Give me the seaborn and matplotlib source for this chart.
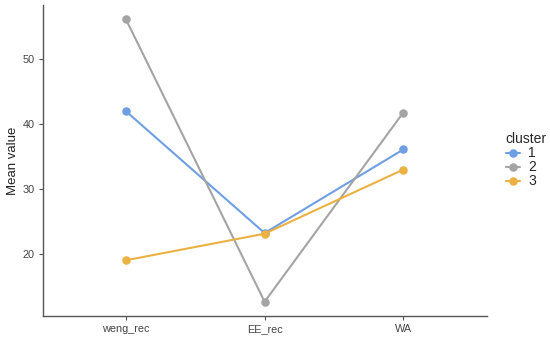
import matplotlib
matplotlib.use("Agg")
import matplotlib.pyplot as plt
import pandas as pd
import seaborn as sns

variables = ["weng_rec", "EE_rec", "WA"]
clusters = ["1", "2", "3"]
cluster1 = [42.0, 23.2, 36.1]
cluster2 = [56.2, 12.6, 41.8]
cluster3 = [19.0, 23.1, 33.0]

palette = {"1": "#6f9fe3", "2": "#a4a4a4", "3": "#ebb142"}

rows = []
for cl, vals in zip(clusters, [cluster1, cluster2, cluster3]):
    for v, val in zip(variables, vals):
        rows.append({"variable": v, "cluster": cl, "value": val})
df = pd.DataFrame(rows)

sns.set_theme(style="ticks")
plt.rcParams["font.family"] = ["Liberation Sans", "DejaVu Sans"]

fig = plt.figure(figsize=(5.5, 3.37), dpi=100)
ax = fig.add_axes([0.0776, 0.0623, 0.807, 0.923])

sns.pointplot(data=df, x="variable", y="value", hue="cluster", order=variables,
              hue_order=clusters, palette=palette, errorbar=None, ax=ax,
              markersize=5, linewidth=1.5, markers="o", legend=True)

ax.set_xlim(-0.6, 2.6)
ax.set_ylim(10.4, 58.4)
ax.set_yticks([20, 30, 40, 50])
ax.set_xlabel("")
ax.set_ylabel("Mean value", fontsize=9.5, color="#222222", labelpad=2)
ax.tick_params(axis="both", labelsize=7.8, colors="#555555", length=3, width=0.8, pad=3)
for lab in ax.get_xticklabels() + ax.get_yticklabels():
    lab.set_color("#444444")
sns.despine(ax=ax)
for side in ["left", "bottom"]:
    ax.spines[side].set_color("#555555")
    ax.spines[side].set_linewidth(1.0)

leg = ax.legend(title="cluster", loc="center left", bbox_to_anchor=(1.015, 0.5),
                frameon=False, fontsize=10, title_fontsize=10,
                handlelength=1.0, handletextpad=0.6, labelspacing=0.0)
leg._legend_box.align = "left"

fig.savefig("out.png", dpi=100)
